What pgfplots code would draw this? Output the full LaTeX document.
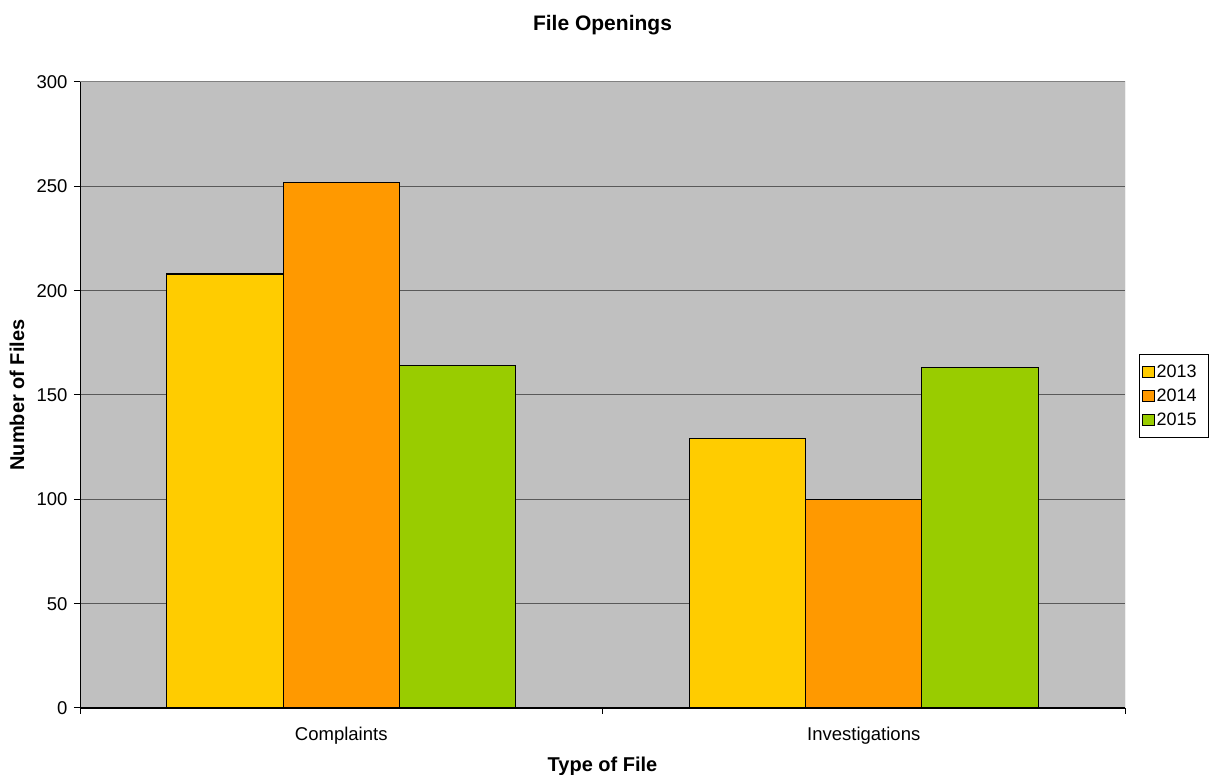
\documentclass[border=0pt]{standalone}
\usepackage{pgfplots}
\pgfplotsset{compat=1.18}
\usepackage{fontspec}
\setmainfont{Liberation Sans}

\definecolor{c2013}{HTML}{FFCC00}
\definecolor{c2014}{HTML}{FF9900}
\definecolor{c2015}{HTML}{99CC00}
\definecolor{plotbg}{HTML}{C0C0C0}

\begin{document}
\begin{tikzpicture}[x=1pt,y=1pt]
\useasboundingbox (0,0) rectangle (1214,775);
\begin{axis}[
    scale only axis,
    width=1045pt, height=626pt,
    at={(80pt,67pt)}, anchor=south west,
    ybar=0pt, bar width=0.2225,
    xmin=-0.5, xmax=1.5,
    ymin=0, ymax=300,
    ytick={0,50,...,300},
    xtick={-0.5,0.5,1.5}, xticklabels={},
    extra x ticks={0,1}, extra x tick labels={Complaints,Investigations},
    extra x tick style={major tick length=0pt, grid=none},
    x tick style={black, line width=1pt},
    y tick style={black, line width=1pt},
    major tick length=6pt,
    tick align=outside,
    ymajorgrids,
    grid style={black!65, line width=1pt},
    axis background/.style={fill=plotbg},
    axis x line*=bottom, axis y line*=left,
    separate axis lines,
    x axis line style={black, line width=1.3pt, -},
    y axis line style={black, line width=1pt, -},
    tick label style={font=\fontsize{18.5}{21}\selectfont},
    /pgf/number format/assume math mode=true,
    yticklabel style={xshift=-3pt},
    xticklabel style={yshift=-16pt},
    title={\bfseries File Openings},
    title style={font=\fontsize{21}{24}\selectfont, at={(axis description cs:0.5,1.0815)}, anchor=center},
    xlabel={\bfseries Type of File},
    xlabel style={font=\fontsize{20}{23}\selectfont, at={(axis description cs:0.5,-0.0927)}, anchor=center},
    ylabel={\bfseries Number of Files},
    ylabel style={font=\fontsize{20}{23}\selectfont, at={(axis description cs:-0.0603,0.5)}, anchor=center},
    legend style={at={(1139pt-80pt,421pt-67pt)}, anchor=north west, draw=black, line width=1pt,
        font=\fontsize{18}{21}\selectfont, inner xsep=2pt, inner ysep=8.5pt, row sep=6pt,
        /tikz/every even column/.append style={column sep=1pt}},
    legend cell align=left,
    legend image code/.code={\draw[#1, line width=1pt, draw=black] (0pt,-5.5pt) rectangle (12pt,6pt);},
    every axis plot/.append style={draw=black, line width=1.1pt},
]
\addplot[fill=c2013] coordinates {(0,208) (1,129)};
\addplot[fill=c2014] coordinates {(0,252) (1,100)};
\addplot[fill=c2015] coordinates {(0,164) (1,163)};
\legend{2013\hspace*{8pt},2014\hspace*{8pt},2015\hspace*{8pt}}
\draw[black!50, line width=1pt] (axis cs:-0.5,300) -- (axis cs:1.5,300) -- (axis cs:1.5,0);
\end{axis}
\end{tikzpicture}
\end{document}
